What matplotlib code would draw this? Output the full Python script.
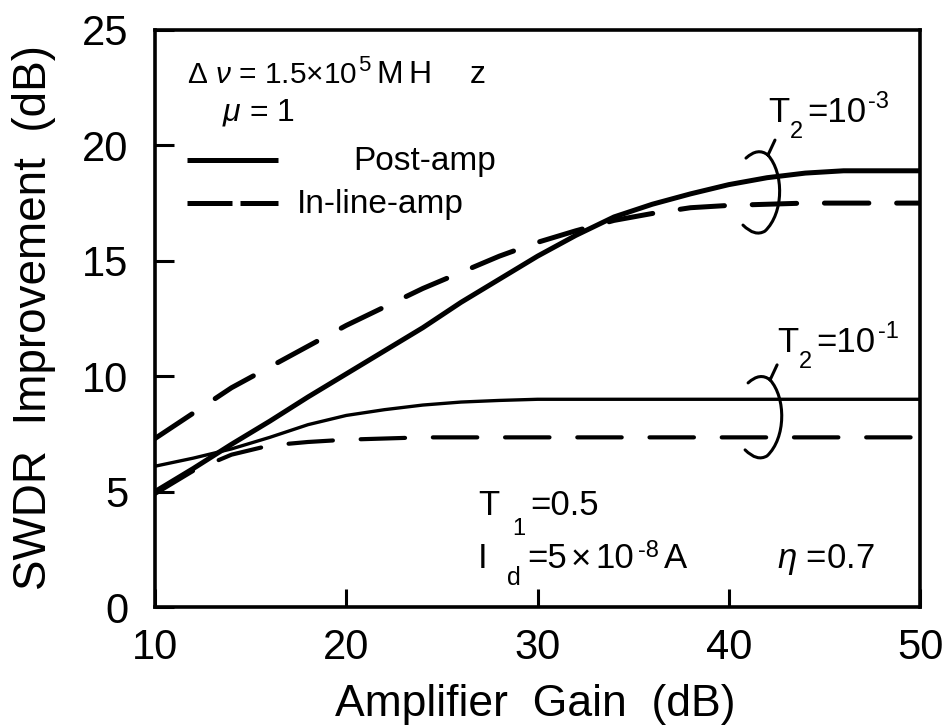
import numpy as np
import matplotlib
matplotlib.use("Agg")
import matplotlib.pyplot as plt
from matplotlib.path import Path
from matplotlib.patches import PathPatch
from matplotlib.transforms import ScaledTranslation

plt.rcParams['font.family'] = ['Liberation Sans', 'DejaVu Sans']
plt.rcParams['mathtext.fontset'] = 'custom'
plt.rcParams['mathtext.rm'] = 'Liberation Sans'
plt.rcParams['mathtext.it'] = 'Liberation Sans:italic'
plt.rcParams['lines.scale_dashes'] = False

# amplifier gain (dB) and SWDR improvement (dB) for each case
gain = [10, 12, 14, 16, 18, 20, 22, 24, 26, 28, 30,
        32, 34, 36, 38, 40, 42, 44, 46, 48, 50]
post_t2_1e3 = [5.0, 6.0, 7.05, 8.05, 9.1, 10.1, 11.1, 12.1, 13.2, 14.2, 15.2,
               16.1, 16.9, 17.45, 17.9, 18.3, 18.6, 18.8, 18.9, 18.9, 18.9]
inline_t2_1e3 = [7.3, 8.4, 9.5, 10.4, 11.3, 12.2, 13.0, 13.8, 14.5, 15.2, 15.8,
                 16.3, 16.75, 17.05, 17.3, 17.4, 17.45, 17.5, 17.5, 17.5, 17.5]
post_t2_1e1 = [6.1, 6.45, 6.85, 7.35, 7.9, 8.3, 8.55, 8.75, 8.88, 8.95, 9.0,
               9.0, 9.0, 9.0, 9.0, 9.0, 9.0, 9.0, 9.0, 9.0, 9.0]
inline_t2_1e1 = [4.9, 5.9, 6.6, 7.0, 7.15, 7.25, 7.3, 7.35, 7.35, 7.35, 7.35,
                 7.35, 7.35, 7.35, 7.35, 7.35, 7.35, 7.35, 7.35, 7.35, 7.35]

xticks = [10, 20, 30, 40, 50]
yticks = [0, 5, 10, 15, 20, 25]

fig = plt.figure(figsize=(9.48, 7.28), dpi=100)
ax = fig.add_axes([0.1635, 0.1662, 0.8070, 0.7926])

dash = (32, 20)
ax.plot(gain, post_t2_1e3, color='black', lw=3.6, solid_capstyle='butt')
ax.plot(gain, inline_t2_1e3, color='black', lw=3.6, dashes=dash,
        dash_capstyle='round')
ax.plot(gain, post_t2_1e1, color='black', lw=2.4, solid_capstyle='butt')
ax.plot(gain, inline_t2_1e1, color='black', lw=3.0, dashes=dash,
        dash_capstyle='round')

ax.set_xlim(10, 50)
ax.set_ylim(0, 25)
ax.set_xticks(xticks)
ax.set_yticks(yticks)
ax.tick_params(axis='x', direction='in', length=13, width=2.2, pad=15,
               labelsize=30)
ax.tick_params(axis='y', direction='in', length=14, width=2.2, pad=19,
               labelsize=30)
for sp in ax.spines.values():
    sp.set_linewidth(2.6)

ax.set_xlabel('Amplifier  Gain  (dB)', fontsize=32)
ax.set_ylabel('SWDR  Improvement  (dB)', fontsize=33)
ax.xaxis.set_label_coords(0.497, -0.133)
ax.yaxis.set_label_coords(-0.130, 0.502)

# legend keys drawn by hand
ax.plot([0.0418, 0.1608], [0.7747, 0.7747], transform=ax.transAxes,
        color='black', lw=3.6, solid_capstyle='butt')
ax.plot([0.0418, 0.1007], [0.7002, 0.7002], transform=ax.transAxes,
        color='black', lw=3.6, solid_capstyle='butt')
ax.plot([0.1111, 0.1608], [0.7002, 0.7002], transform=ax.transAxes,
        color='black', lw=3.6, solid_capstyle='butt')
ax.text(0.2588, 0.7574, 'Post-amp', transform=ax.transAxes, fontsize=24,
        va='baseline')
ax.text(0.1856, 0.6828, 'In-line-amp', transform=ax.transAxes, fontsize=24,
        va='baseline')


def pieces(x, y, parts):
    # parts: (text, dx px, dy px, size) placed from a baseline anchor
    for text, dx, dy, size in parts:
        ax.annotate(text, (x, y), xycoords='axes fraction',
                    xytext=(dx * 0.72, dy * 0.72), textcoords='offset points',
                    fontsize=size, va='baseline', ha='left')


pieces(0.0418, 0.9081, [(r'$\Delta\ \nu$ = 1.5$\times$10', 0, 0, 21.5),
                        ('5', 171, 12, 16), ('M', 189, 0, 23),
                        ('H', 221, 0, 23), ('z', 283, 0, 23)])
pieces(0.0876, 0.844, [(r'$\mu$ = 1', 0, 0, 23)])

t2_parts = [('T', 0, 0, 25), ('2', 22, -16, 17), ('=10', 39, 0, 25)]
pieces(0.8013, 0.8406, t2_parts + [('-3', 100, 14, 17)])
pieces(0.8130, 0.4419, t2_parts + [('-1', 101, 14, 17)])
pieces(0.4222, 0.1594, [('T', 0, 0, 25), ('1', 34, -20, 17),
                        ('=0.5', 52, 0, 25)])
pieces(0.4222, 0.0676, [('I', 0, 0, 25), ('d', 29, -17, 18),
                        ('=5', 49, 0, 25), (r'$\times$', 92, 0, 25),
                        ('10', 117, 0, 25), ('-8', 160, 11, 17),
                        ('A', 186, 0, 25)])
pieces(0.8131, 0.0676, [(r'$\eta$ =0.7', 0, 0, 25)])


def bracket(x, y):
    # curly bracket with a small stem, sized in pixels at dpi 100
    verts = [(7, -15), (0, 0),
             (-22, 3), (-10, -8), (0, 0),
             (16, 18), (16, 58), (-3, 76),
             (-13, 82), (-25, 70)]
    codes = [Path.MOVETO, Path.LINETO,
             Path.MOVETO, Path.CURVE3, Path.CURVE3,
             Path.CURVE4, Path.CURVE4, Path.CURVE4,
             Path.CURVE3, Path.CURVE3]
    verts = [(vx / 100.0, -vy / 100.0) for vx, vy in verts]
    trans = fig.dpi_scale_trans + ScaledTranslation(x, y, ax.transData)
    ax.add_patch(PathPatch(Path(verts, codes), transform=trans, fill=False,
                           lw=2.2, edgecolor='black', capstyle='round',
                           clip_on=False))


bracket(42.05, 19.58)
bracket(42.16, 9.84)

fig.savefig('out.png', dpi=100)
